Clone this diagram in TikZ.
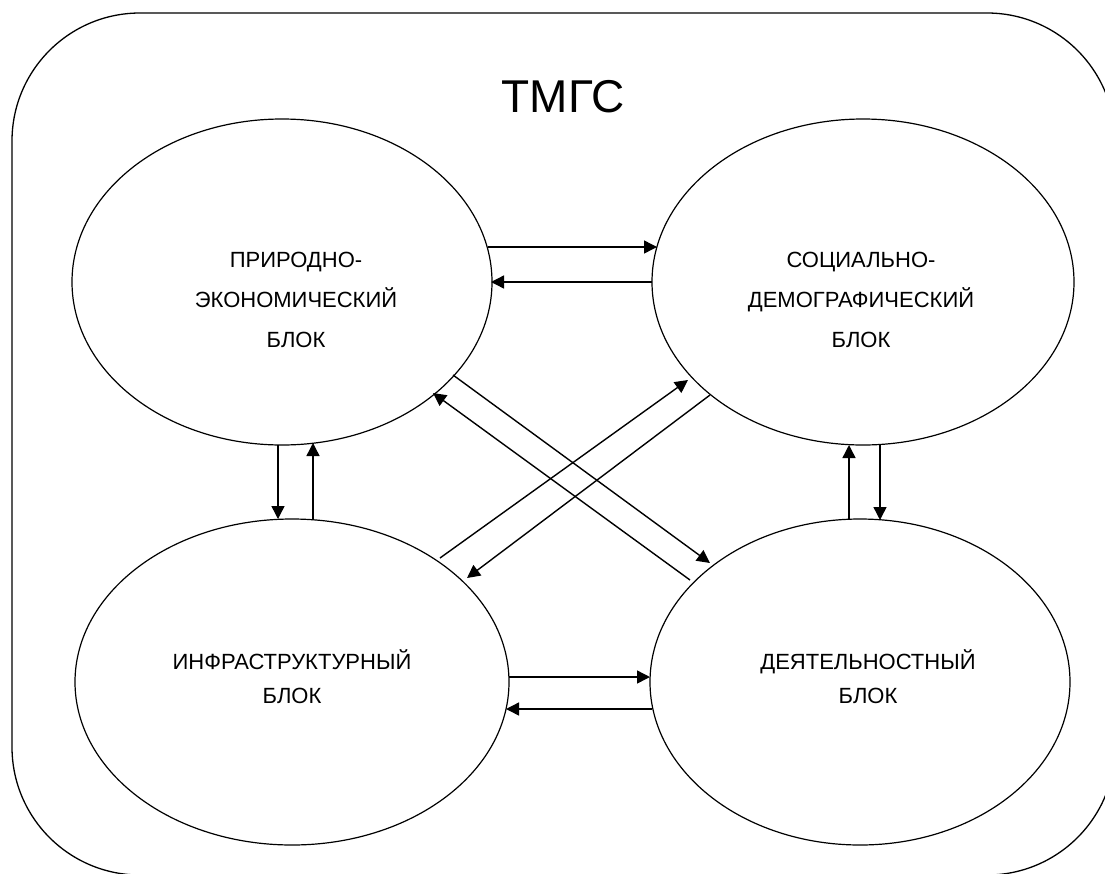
\documentclass[tikz,border=0pt]{standalone}
\usepackage{fontspec}
\setmainfont{Liberation Sans}
\usetikzlibrary{shapes.geometric,arrows.meta}
\tikzset{
  ell/.style={draw, ellipse, line width=1.2pt, inner sep=0pt},
  lbl/.style={align=center, inner sep=0pt, font=\fontsize{22}{40}\selectfont},
  lbltwo/.style={align=center, inner sep=0pt, font=\fontsize{22}{34}\selectfont},
  arr/.style={line width=1.4pt, -{Triangle[length=13pt,width=13pt]}},
  frame/.style={draw, line width=1.3pt, rounded corners=128pt}
}
\begin{document}
\begin{tikzpicture}[x=1pt,y=-1pt]
\useasboundingbox (0,0) rectangle (1105,873);
\draw[frame] (12,13) rectangle (1115,875);
\node[font=\fontsize{46}{50}\selectfont, inner sep=0pt] (title) at (563,97) {ТМГС};
\node[ell, minimum width=420pt, minimum height=326pt] (e1) at (282,282) {};
\node[ell, minimum width=422pt, minimum height=326pt] (e2) at (863,282) {};
\node[ell, minimum width=434pt, minimum height=326pt] (e3) at (292,682) {};
\node[ell, minimum width=420pt, minimum height=326pt] (e4) at (860,682) {};
\node[lbl] (t1) at (296,300) {ПРИРОДНО-\\ЭКОНОМИЧЕСКИЙ\\БЛОК};
\node[lbl] (t2) at (861,300) {СОЦИАЛЬНО-\\ДЕМОГРАФИЧЕСКИЙ\\БЛОК};
\node[lbltwo] (t3) at (292,677) {ИНФРАСТРУКТУРНЫЙ\\БЛОК};
\node[lbltwo] (t4) at (868,677) {ДЕЯТЕЛЬНОСТНЫЙ\\БЛОК};
% horizontal top
\draw[arr] ([shift={(206,-35)}]e1.center) -- ([shift={(-206,-35)}]e2.center);
\draw[arr] ([shift={(-211,0)}]e2.center) -- ([shift={(209,0)}]e1.center);
% horizontal bottom
\draw[arr] ([shift={(217,-5)}]e3.center) -- ([shift={(-210,-5)}]e4.center);
\draw[arr] ([shift={(-208,27)}]e4.center) -- ([shift={(214,27)}]e3.center);
% vertical left
\draw[arr] ([shift={(-4,163)}]e1.center) -- ([shift={(-14,-163)}]e3.center);
\draw[arr] ([shift={(21,-162)}]e3.center) -- ([shift={(31,161)}]e1.center);
% vertical right
\draw[arr] ([shift={(-11,-163)}]e4.center) -- ([shift={(-14,163)}]e2.center);
\draw[arr] ([shift={(17,162)}]e2.center) -- ([shift={(20,-162)}]e4.center);
% diagonals
\draw[arr] ([shift={(-170,-102)}]e4.center) -- ([shift={(151,111)}]e1.center);
\draw[arr] ([shift={(171,93)}]e1.center) -- ([shift={(-150,-119)}]e4.center);
\draw[arr] ([shift={(148,-124)}]e3.center) -- ([shift={(-175,98)}]e2.center);
\draw[arr] ([shift={(-153,113)}]e2.center) -- ([shift={(175,-104)}]e3.center);
\end{tikzpicture}
\end{document}
